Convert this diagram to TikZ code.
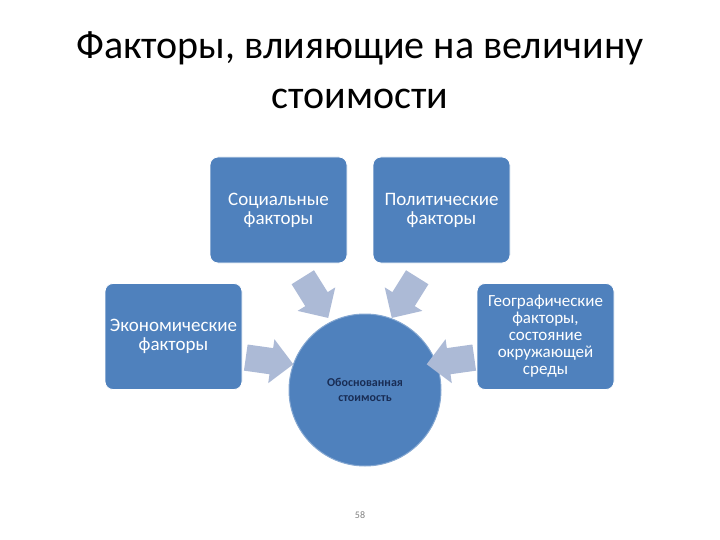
\documentclass[tikz,border=0pt]{standalone}
\usepackage{fontspec}
\setmainfont{Carlito}
\usetikzlibrary{shapes.arrows,calc}
\definecolor{boxblue}{RGB}{79,129,189}
\definecolor{arrowblue}{RGB}{172,186,214}
\definecolor{navy}{RGB}{25,45,85}
\tikzset{
  factor/.style={draw=white,line width=0.8pt,fill=boxblue,rounded corners=8pt,minimum width=137pt,minimum height=106pt,text=white,align=center,font=\fontsize{19}{19}\selectfont},
  flow/.style={single arrow,fill=arrowblue,minimum height=48pt,inner xsep=0pt,inner ysep=13pt,single arrow head extend=9pt}
}
\begin{document}
\begin{tikzpicture}[x=1pt,y=-1pt]
\useasboundingbox (0,0) rectangle (720,540);
%title
\node[font=\fontsize{40}{50}\selectfont,align=center] (title) at (360,70) {Факторы, влияющие на величину\\стоимости};
%boxes
\node[factor] (soc) at (278.5,210) {Социальные\\факторы};
\node[factor] (pol) at (441.5,210) {Политические\\факторы};
\node[factor] (eco) at (173.5,336.5) {Экономические\\факторы};
\node[factor,font=\fontsize{17}{17}\selectfont] (geo) at (545.5,336.5) {Географические\\факторы,\\состояние\\окружающей\\среды};
\node[circle,fill=boxblue,draw=boxblue!70!white,line width=1pt,minimum size=152pt,text=navy,align=center,font=\bfseries\fontsize{12}{15}\selectfont] (val) at (365,390) {Обоснованная\\стоимость};
%arrows
\node[flow,rotate=-58] (a1) at (312,292) {};
\node[flow,rotate=-122] (a2) at (408,292) {};
\node[flow,rotate=-8] (a3) at (263,360) {};
\node[flow,rotate=188] (a4) at (457,360) {};
\node[text=gray,font=\fontsize{10}{12}\selectfont] (page) at (360,515) {58};
\end{tikzpicture}
\end{document}
